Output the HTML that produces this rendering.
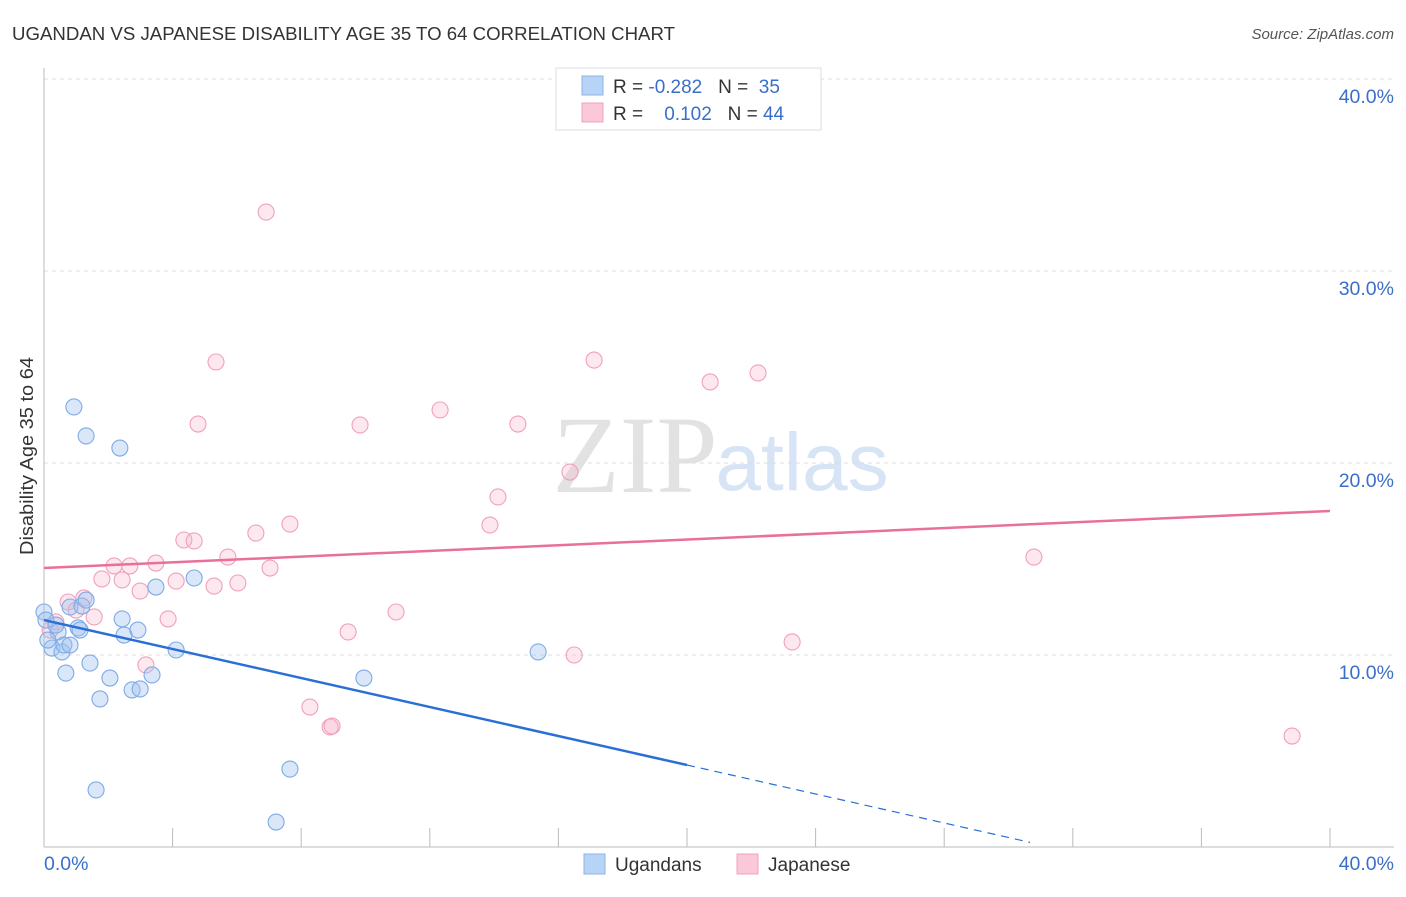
<!DOCTYPE html>
<html><head><meta charset="utf-8"><style>
body{margin:0;background:#fff;font-family:"Liberation Sans",sans-serif}
</style></head><body>
<svg id="c" width="1406" height="892" xmlns="http://www.w3.org/2000/svg">
<text x="12" y="40" font-size="18" fill="#333" textLength="663" lengthAdjust="spacingAndGlyphs">UGANDAN VS JAPANESE DISABILITY AGE 35 TO 64 CORRELATION CHART</text>
<text x="1394" y="39" font-size="15" fill="#555" font-style="italic" text-anchor="end">Source: ZipAtlas.com</text>
<text x="635" y="492" font-size="110" fill="#e2e2e2" font-family="Liberation Serif,serif" text-anchor="middle">ZIP</text>
<text x="802" y="490" font-size="82" fill="#d6e4f5" text-anchor="middle">atlas</text>
<text transform="translate(33,456) rotate(-90)" font-size="18" fill="#333" text-anchor="middle" textLength="198" lengthAdjust="spacingAndGlyphs">Disability Age 35 to 64</text>
<g id="grid"></g><g id="pts"></g><g id="lines"></g>
<g>
<rect x="556" y="68" width="265" height="62" fill="#fff" stroke="#ddd"/>
<rect x="582" y="76" width="21" height="19" fill="#b7d3f5" stroke="#8ab4e8"/>
<rect x="582" y="103" width="21" height="19" fill="#fac8d8" stroke="#f0a0bc"/>
<text x="613" y="93" font-size="19" fill="#333" xml:space="preserve">R = <tspan fill="#3a6fc9">-0.282</tspan>   N =  <tspan fill="#3a6fc9">35</tspan></text>
<text x="613" y="120" font-size="19" fill="#333" xml:space="preserve">R =    <tspan fill="#3a6fc9">0.102</tspan>   N = <tspan fill="#3a6fc9">44</tspan></text>
</g>
<g>
<rect x="584" y="854" width="21" height="20" fill="#b7d3f5" stroke="#8ab4e8"/>
<text x="615" y="871" font-size="19" fill="#333">Ugandans</text>
<rect x="737" y="854" width="21" height="20" fill="#fac8d8" stroke="#f0a0bc"/>
<text x="768" y="871" font-size="19" fill="#333">Japanese</text>
</g>
</svg>
<script>
const yTicks=[10,20,30,40];
const xTickLabels=["0.0%","40.0%"];
const blueX=[0.0,0.06,0.25,0.44,0.56,0.62,0.81,0.68,0.81,0.93,1.06,1.12,1.18,1.31,1.31,1.43,1.62,1.74,2.05,2.36,2.43,2.49,2.74,2.99,2.92,3.36,3.48,4.11,4.67,7.65,7.22,9.95,15.37,0.37,0.12];
const blueY=[12.24,11.82,10.36,11.2,10.16,10.52,10.52,9.06,12.5,22.92,11.41,11.3,12.55,21.41,12.86,9.58,2.97,7.71,8.8,20.78,11.88,11.04,8.18,8.23,11.3,8.96,13.54,10.26,14.01,4.06,1.3,8.8,10.16,11.56,10.78];
const pinkX=[6.91,5.35,4.79,17.11,20.72,22.21,12.32,9.83,14.74,16.36,14.12,13.87,7.65,6.59,4.35,4.67,5.72,3.48,2.67,2.18,7.03,1.8,2.43,4.11,5.29,6.03,2.99,1.24,0.75,1.56,3.86,10.95,9.46,16.49,23.27,30.79,3.17,8.27,8.9,8.96,38.82,1.0,0.37,0.19];
const pinkY=[33.07,25.26,22.03,25.36,24.22,24.69,22.76,21.98,22.03,19.53,18.23,16.77,16.82,16.35,15.99,15.94,15.1,14.79,14.64,14.64,14.53,13.96,13.91,13.85,13.59,13.75,13.33,12.97,12.76,11.98,11.88,12.24,11.2,10.0,10.68,15.1,9.48,7.29,6.25,6.3,5.78,12.34,11.72,11.3];
const blueTrend=[11.82,4.27]; // at x=0 and x=20
const pinkTrend=[14.53,17.5]; // at x=0 and x=40
const X=v=>44+v*32.15, Y=v=>847-v*19.2;
const NS="http://www.w3.org/2000/svg";
function mk(p,t,a){const e=document.createElementNS(NS,t);for(const k in a)e.setAttribute(k,a[k]);p.appendChild(e);return e;}
const g=document.getElementById('grid');
for(const t of yTicks){
 const l=mk(g,'line',{x1:44,x2:1394,y1:Y(t),y2:Y(t),stroke:'#ddd','stroke-dasharray':'4,4'});
 
 const tx=mk(g,'text',{x:1394,y:Y(t)+24,'font-size':19.5,fill:'#3a6fc9','text-anchor':'end'});tx.textContent=t.toFixed(1)+'%';
 
}
const ax=mk(g,'line',{x1:44,x2:1394,y1:847,y2:847,stroke:'#bbb'});

const ay=mk(g,'line',{x1:44,x2:44,y1:68,y2:847,stroke:'#bbb'});

for(let i=0;i<=10;i++){const tk=mk(g,'line',{x1:X(i*4),x2:X(i*4),y1:828,y2:847,stroke:'#bbb'});
 }
const l0=mk(g,'text',{x:44,y:870,'font-size':19.5,fill:'#3a6fc9'});l0.textContent=xTickLabels[0];

const l1=mk(g,'text',{x:1394,y:870,'font-size':19.5,fill:'#3a6fc9','text-anchor':'end'});l1.textContent=xTickLabels[1];

const p=document.getElementById('pts');
pinkX.forEach((x,i)=>{const c=mk(p,'circle',{cx:X(x),cy:Y(pinkY[i]),r:8,fill:'rgba(248,180,202,0.3)',stroke:'#f0a0bc','stroke-width':1.1});
 });
blueX.forEach((x,i)=>{const c=mk(p,'circle',{cx:X(x),cy:Y(blueY[i]),r:8,fill:'rgba(160,196,240,0.4)',stroke:'#7eaae6','stroke-width':1.1});
 });
const L=document.getElementById('lines');
const bs=(blueTrend[1]-blueTrend[0])/20;
const b1=mk(L,'line',{x1:X(0),y1:Y(blueTrend[0]),x2:X(20),y2:Y(blueTrend[1]),stroke:'#2a6fd6','stroke-width':2.5});

const xe=30.67;
const b2=mk(L,'line',{x1:X(20),y1:Y(blueTrend[1]),x2:X(xe),y2:Y(blueTrend[0]+bs*xe),stroke:'#2a6fd6','stroke-width':1.2,'stroke-dasharray':'8,6'});

const pl=mk(L,'line',{x1:X(0),y1:Y(pinkTrend[0]),x2:X(40),y2:Y(pinkTrend[1]),stroke:'#e8709a','stroke-width':2.5});

</script>
</body></html>
